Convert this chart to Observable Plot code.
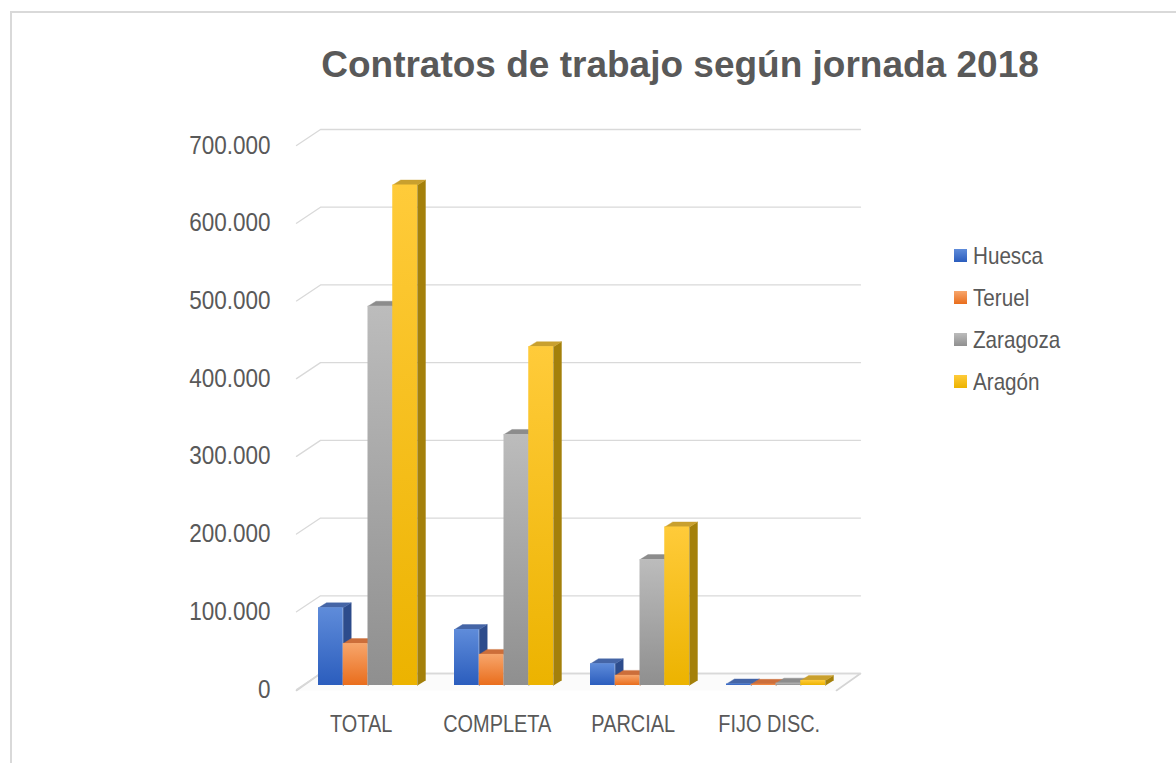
<!DOCTYPE html>
<html>
<head>
<meta charset="utf-8">
<script src="https://cdn.jsdelivr.net/npm/d3@7"></script>
<script src="https://cdn.jsdelivr.net/npm/@observablehq/plot@0.6"></script>
<style>
  html, body { margin: 0; padding: 0; background: #fff; }
  body { width: 1176px; height: 763px; position: relative; overflow: hidden;
         font-family: "Liberation Sans", Arial, sans-serif; color: #595959; }
  #frame { position: absolute; left: 10px; top: 11px; width: 1400px; height: 1000px;
           border-left: 2px solid #d9d9d9; border-top: 2px solid #d9d9d9; box-sizing: border-box; }
  #title { position: absolute; left: 180px; top: 46px; width: 1000px; text-align: center;
           font-size: 37px; line-height: 37px; font-weight: bold; color: #595959; white-space: nowrap;
           transform: scaleX(1); transform-origin: 500px 0; }
  #chart { position: absolute; left: 0; top: 110px; }
  #legend { position: absolute; left: 954px; top: 0; }
  .item { position: absolute; left: 0; height: 26px; line-height: 26px; font-size: 24px; white-space: nowrap; }
  .sw { position: absolute; left: 0; top: 6px; width: 13px; height: 13px; }
  .lab { position: absolute; left: 19px; top: 0; transform: scaleX(0.86); transform-origin: 0 0; }
</style>
</head>
<body>
<div id="frame"></div>
<div id="title">Contratos de trabajo según jornada 2018</div>
<div id="chart"></div>
<div id="legend"></div>
<script>
// ---- data ----
const categories = ["TOTAL", "COMPLETA", "PARCIAL", "FIJO DISC."];
const series = ["Huesca", "Teruel", "Zaragoza", "Aragón"];
const huesca   = [100000,  72000,  28000, 2000];
const teruel   = [ 54000,  40000,  13000, 1500];
const zaragoza = [488000, 323000, 162000, 3000];
const aragon   = [644000, 436000, 204000, 6500];
const yTicks = [0, 100000, 200000, 300000, 400000, 500000, 600000, 700000];

// ---- styles ----
const frontColors = [["#5f8cda", "#2b5dbd"], ["#f7a66c", "#e96d1c"], ["#bcbcbc", "#8f8f8f"], ["#ffcb3a", "#ecb300"]];
const topColors  = ["#4565a6", "#cc6e3a", "#8c8c8c", "#c9a02e"];
const sideColors = ["#2d4c8c", "#b3591f", "#7b7b7b", "#a4800a"];
const FONT = '"Liberation Sans", Arial, sans-serif';

// ---- layout ----
const TOP = 110, H = 653, W = 1176;
const X0 = 296, X1 = 836;                   // front frame extent (px)
const Y0 = 689 - TOP, YM = 145 - TOP;       // 0 and max (px)
const groupPx = 136, firstCenterPx = 367.5, barPx = 24.75;
const yMax = 700000;
const valPerPx = yMax / (Y0 - YM);
const unitPerPx = 1 / groupPx;
const xDomain = [(X0 - firstCenterPx) / groupPx, (X1 - firstCenterPx) / groupPx];
const wall = {dx: 24 * unitPerPx, dy: 16 * valPerPx};
const depth = {dx: 8 * unitPerPx, dy: 5 * valPerPx};
const lift = 4 * valPerPx;
const bw = barPx * unitPerPx;
const values = [huesca, teruel, zaragoza, aragon];

const fmt = d3.formatLocale({decimal: ",", thousands: ".", grouping: [3], currency: ["", ""]}).format(",");

const bars = series.map((s, j) => categories.map((c, i) => {
  const x1 = i - 2 * bw + j * bw, x2 = x1 + bw;
  return {series: s, category: c, j, i, x1, x2, y1: lift, y2: lift + values[j][i]};
}));

const poly = (id, pts) => pts.map(([x, y]) => ({id, x, y}));
const topPoly = b => poly(b.category, [[b.x1, b.y2], [b.x1 + depth.dx, b.y2 + depth.dy], [b.x2 + depth.dx, b.y2 + depth.dy], [b.x2, b.y2]]);
const sidePoly = b => poly(b.category, [[b.x2, b.y1], [b.x2, b.y2], [b.x2 + depth.dx, b.y2 + depth.dy], [b.x2 + depth.dx, b.y1 + depth.dy]]);

const [xa, xb] = xDomain;
const gridData = yTicks.flatMap(t => poly(t, [[xa, t], [xa + wall.dx, t + wall.dy], [xb + wall.dx, t + wall.dy]]));
const floorData = poly("floor", [[xa, -1 * valPerPx], [xa + wall.dx, wall.dy], [xb + wall.dx, wall.dy], [xb, -1 * valPerPx]]);
const shadowData = categories.flatMap((c, i) => {
  const xs = i - 2 * bw, xe = i + 2 * bw + depth.dx;
  return poly(c, [[xs - 20 * unitPerPx, 1 * valPerPx], [xs - 10 * unitPerPx, 10 * valPerPx], [xe + 8 * unitPerPx, 10 * valPerPx], [xe + 2 * unitPerPx, 1 * valPerPx]]);
});

const marks = [
  Plot.line(floorData, {x: "x", y: "y", z: "id", fill: "#fbfbfb", stroke: "#d4d4d4", strokeWidth: 1.6}),
  Plot.line(gridData, {x: "x", y: "y", z: "id", stroke: "#d9d9d9", strokeWidth: 1.3}),
  Plot.line(shadowData, {x: "x", y: "y", z: "id", fill: "#2a2a2a", fillOpacity: 0.85, stroke: "none", ariaLabel: "shadow"})
];
bars.forEach((row, j) => {
  marks.push(Plot.line(row.flatMap(sidePoly), {x: "x", y: "y", z: "id", fill: sideColors[j], stroke: sideColors[j], strokeWidth: 0.4}));
  marks.push(Plot.line(row.flatMap(topPoly), {x: "x", y: "y", z: "id", fill: topColors[j], stroke: topColors[j], strokeWidth: 0.4}));
  marks.push(Plot.rect(row, {x1: "x1", x2: "x2", y1: "y1", y2: "y2", fill: `url(#front${j})`, insetLeft: 0, insetRight: 0}));
});

const svg = Plot.plot({
  width: W, height: H,
  marginLeft: X0, marginRight: W - X1, marginTop: YM, marginBottom: H - Y0,
  style: {fontFamily: FONT, fontSize: "24px", color: "#595959", background: "transparent", overflow: "visible"},
  x: {domain: xDomain, ticks: categories.map((c, i) => i - 0.05), tickFormat: d => categories[Math.round(d + 0.05)], tickSize: 0, tickPadding: 25, label: null},
  y: {domain: [0, yMax], ticks: yTicks, tickFormat: fmt, tickSize: 0, tickPadding: 26, label: null},
  marks
});

const defs = d3.select(svg).insert("defs", ":first-child");
frontColors.forEach(([c0, c1], j) => {
  const g = defs.append("linearGradient").attr("id", `front${j}`).attr("x1", 0).attr("y1", 0).attr("x2", 0).attr("y2", 1);
  g.append("stop").attr("offset", "0%").attr("stop-color", c0);
  g.append("stop").attr("offset", "100%").attr("stop-color", c1);
});
defs.append("filter").attr("id", "blur").attr("x", "-50%").attr("y", "-200%").attr("width", "200%").attr("height", "500%")
  .append("feGaussianBlur").attr("stdDeviation", 2.6);
d3.select(svg).selectAll('g[aria-label="shadow"]').attr("filter", "url(#blur)");

document.getElementById("chart").appendChild(svg);

// narrow the axis labels horizontally (Arial Narrow look)
const yLabels = new Set(yTicks.map(fmt));
d3.select(svg).selectAll("text").each(function() {
  const isY = yLabels.has(this.textContent);
  if (isY) this.style.fontSize = "25px";
  const l = this.getComputedTextLength();
  if (l > 0) {
    this.setAttribute("textLength", l * (isY ? 0.9 : 0.83));
    this.setAttribute("lengthAdjust", "spacingAndGlyphs");
  }
});

// legend
const legend = d3.select("#legend");
const legendTop = [255.5, 297.7, 340, 382.2];
series.forEach((s, j) => {
  const it = legend.append("div").attr("class", "item").style("top", (legendTop[j] - 13) + "px");
  it.append("div").attr("class", "sw").style("background", `linear-gradient(${frontColors[j][0]}, ${frontColors[j][1]})`);
  it.append("div").attr("class", "lab").text(s);
});
</script>
</body>
</html>
